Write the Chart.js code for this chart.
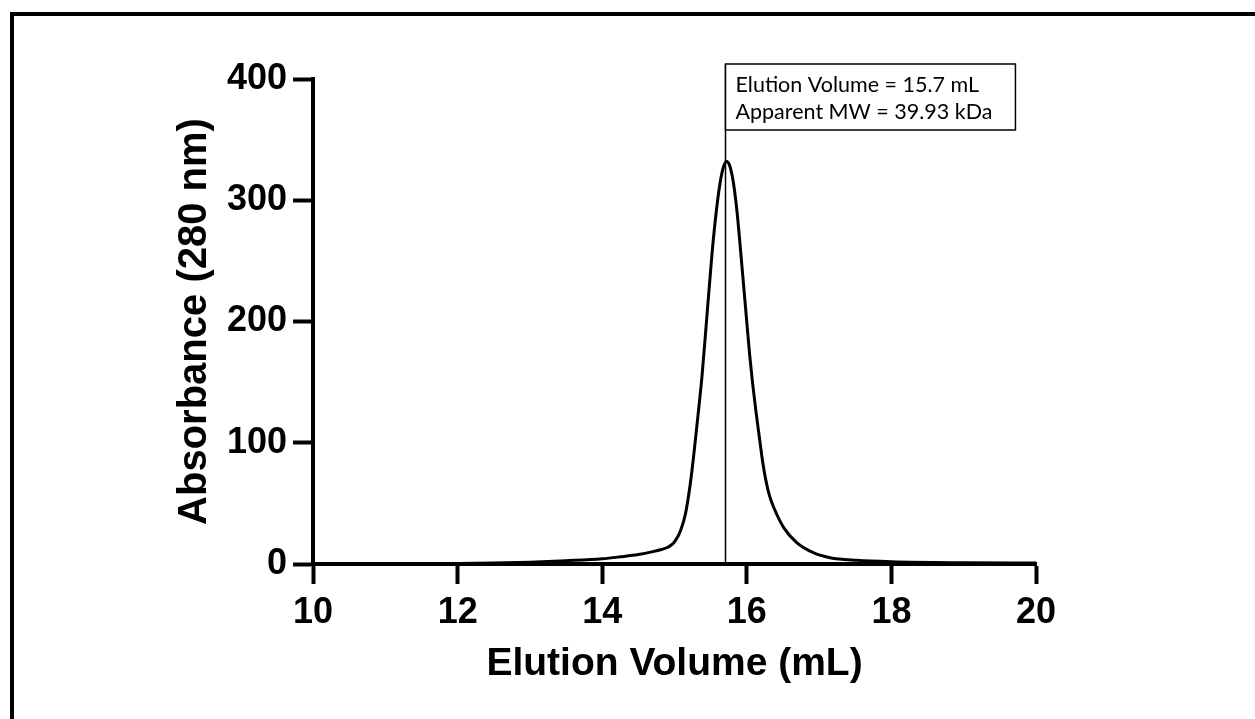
<!DOCTYPE html>
<html>
<head>
<meta charset="utf-8">
<script src="https://cdn.jsdelivr.net/npm/chart.js@4/dist/chart.umd.min.js"></script>
<style>
  html, body { margin: 0; padding: 0; background: #fff; overflow: hidden; }
  #wrap { position: relative; width: 1255px; height: 719px; }
  #frame { position: absolute; left: 10px; top: 12px; width: 1400px; height: 900px;
           border-left: 4px solid #000; border-top: 4px solid #000; box-sizing: border-box; }
  canvas { position: absolute; left: 0; top: 0; }
</style>
</head>
<body>
<div id="wrap">
  <div id="frame"></div>
  <canvas id="c" width="1255" height="719"></canvas>
</div>
<script>
// ---- data ----
const elutionVolume = [10.0, 11.0, 12.0, 12.5, 13.0, 13.5, 14.0, 14.25, 14.5, 14.7, 14.82, 14.90, 14.95, 14.99, 15.04, 15.08, 15.15, 15.22, 15.27, 15.32, 15.38, 15.45, 15.52, 15.58, 15.635, 15.68, 15.72, 15.76, 15.81, 15.86, 15.91, 15.99, 16.04, 16.08, 16.13, 16.19, 16.22, 16.26, 16.31, 16.37, 16.51, 16.69, 16.92, 17.15, 17.52, 18.0, 19.0, 20.0];
const absorbance    = [0.2, 0.3, 0.5, 0.8, 1.5, 2.7, 4.3, 5.9, 7.8, 10.2, 12.0, 13.6, 15.5, 17.6, 22, 27, 41, 67, 92, 120, 155, 206, 257, 292, 316, 328, 332, 329, 316, 293, 261, 206, 172, 149, 124, 97, 84, 70, 57, 47, 30, 17.6, 9.3, 5.2, 3.0, 1.8, 1.0, 0.8];
const xTickValues = [10, 12, 14, 16, 18, 20];
const yTickValues = [0, 100, 200, 300, 400];
const peakVolume = 15.7;
const annotationLines = ["Elution Volume = 15.7 mL", "Apparent MW = 39.93 kDa"];
const xTitle = "Elution Volume (mL)";
const yTitle = "Absorbance (280 nm)";

const points = elutionVolume.map((v, i) => ({ x: v, y: absorbance[i] }));

const peakAnnotation = {
  id: 'peakAnnotation',
  afterDatasetsDraw(chart) {
    const { ctx, chartArea, scales } = chart;
    const xp = Math.round(scales.x.getPixelForValue(peakVolume)) + 0.5;
    const y0 = scales.y.getPixelForValue(0);
    ctx.save();
    ctx.font = '21.5px Lato, "Open Sans", sans-serif';
    const w = Math.max(...annotationLines.map(t => ctx.measureText(t).width));
    const boxTop = chartArea.top - 15;
    const boxH = 66;
    const boxW = w + 33;
    ctx.strokeStyle = '#000';
    ctx.lineWidth = 1.5;
    ctx.beginPath();
    ctx.moveTo(xp, y0);
    ctx.lineTo(xp, boxTop);
    ctx.stroke();
    ctx.fillStyle = '#fff';
    ctx.fillRect(xp, boxTop, boxW, boxH);
    ctx.strokeRect(xp, boxTop, boxW, boxH);
    ctx.fillStyle = '#000';
    ctx.textBaseline = 'alphabetic';
    ctx.fillText(annotationLines[0], xp + 10, boxTop + 28);
    ctx.fillText(annotationLines[1], xp + 10, boxTop + 55);
    ctx.restore();
  }
};

const tickFont = { family: '"Liberation Sans", Arial, sans-serif', size: 36, weight: 'bold' };
const titleFont = { family: '"Liberation Sans", Arial, sans-serif', size: 39, weight: 'bold' };

new Chart(document.getElementById('c'), {
  type: 'line',
  data: {
    datasets: [{
      data: points,
      borderColor: '#000',
      borderWidth: 3,
      pointRadius: 0,
      fill: false,
      cubicInterpolationMode: 'monotone'
    }]
  },
  options: {
    responsive: false,
    animation: false,
    devicePixelRatio: 1,
    layout: { padding: { left: 171, right: 219, top: 79, bottom: 31 } },
    plugins: { legend: { display: false }, tooltip: { enabled: false } },
    scales: {
      x: {
        type: 'linear', min: 10, max: 20,
        afterBuildTicks: s => { s.ticks = xTickValues.map(v => ({ value: v })); },
        ticks: { font: tickFont, color: '#000', padding: 7 },
        grid: { drawOnChartArea: false, drawTicks: true, tickLength: 20, tickWidth: 4, tickColor: '#000' },
        border: { display: true, width: 4, color: '#000' },
        title: { display: true, text: xTitle, font: titleFont, color: '#000', padding: { top: 0, bottom: 0 } }
      },
      y: {
        type: 'linear', min: 0, max: 400,
        afterBuildTicks: s => { s.ticks = yTickValues.map(v => ({ value: v })); },
        ticks: { font: tickFont, color: '#000', padding: 6 },
        grid: { drawOnChartArea: false, drawTicks: true, tickLength: 20, tickWidth: 4, tickColor: '#000' },
        border: { display: true, width: 4, color: '#000' },
        title: { display: true, text: yTitle, font: { ...titleFont, size: 40 }, color: '#000', padding: { top: 0, bottom: 2 } }
      }
    }
  },
  plugins: [peakAnnotation]
});
</script>
</body>
</html>
